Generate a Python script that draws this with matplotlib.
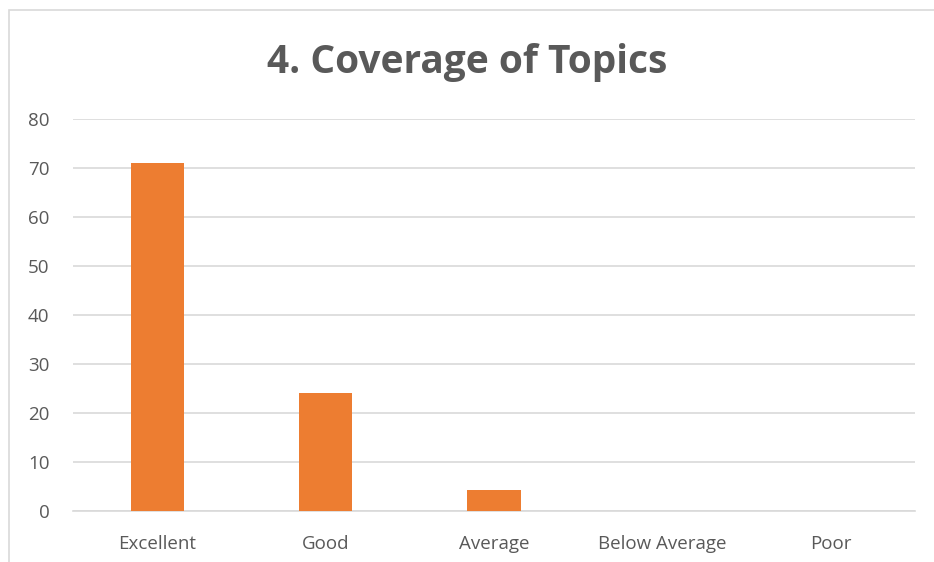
import matplotlib.pyplot as plt
from matplotlib.patches import Rectangle

# data
categories = ['Excellent', 'Good', 'Average', 'Below Average', 'Poor']
values = [71, 24, 4.3, 0.1, 0.1]
yticks = [0, 10, 20, 30, 40, 50, 60, 70, 80]

plt.rcParams['font.family'] = ['Open Sans', 'DejaVu Sans']

fig = plt.figure(figsize=(9.34, 5.62), dpi=100)
ax = fig.add_axes([73/934, 51/562, 842/934, 392/562])

# chart border like the excel chart frame
fig.patches.append(Rectangle((9/934, -0.1), 1.2, (562 - 10)/562 + 0.1,
                             transform=fig.transFigure, fill=False,
                             edgecolor='#d9d9d9', linewidth=1.2))

x = range(len(categories))
ax.bar(x, values, width=0.315, color='#ed7d31', zorder=3)

ax.set_xlim(-0.5, len(categories) - 0.5)
ax.set_ylim(0, 80)
ax.set_yticks(yticks)
ax.set_xticks(list(x))
ax.set_xticklabels(categories)
ax.grid(axis='y', color='#d9d9d9', linewidth=1.2, zorder=0)
for s in ['top', 'right', 'left']:
    ax.spines[s].set_visible(False)
ax.spines['bottom'].set_color('#d9d9d9')
ax.spines['bottom'].set_linewidth(1.2)
ax.tick_params(length=0, labelsize=13.5, colors='#595959')
ax.tick_params(axis='y', pad=17)
ax.tick_params(axis='x', pad=17)

fig.text(0.5, 1 - 62/562, '4. Coverage of Topics', ha='center', va='center',
         fontsize=28, fontweight='bold', color='#595959')

fig.savefig('out.png', dpi=100)
